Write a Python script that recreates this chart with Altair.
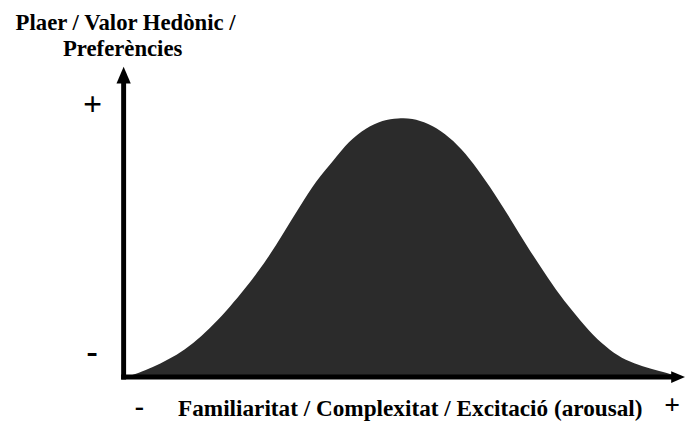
import altair as alt
import pandas as pd

# Curve (x: 0-100 along the horizontal axis, y: 0-100 up the vertical axis)
curve_x = [0.5, 5.0, 11.1, 17.0, 22.9, 25.9, 28.9, 31.8, 34.8, 37.9, 40.7, 43.8, 46.8, 49.6,
           52.1, 55.0, 58.0, 61.1, 63.9, 67.0, 70.0, 72.9, 75.9, 78.9, 81.8, 84.8, 87.9,
           90.7, 93.8, 96.8, 99.6]
curve_y = [0.0, 2.8, 8.1, 17.5, 30.0, 37.2, 45.6, 53.8, 62.2, 68.4, 74.7, 78.8, 81.3, 81.9,
           81.9, 80.3, 77.2, 72.2, 65.9, 58.1, 49.7, 41.3, 33.4, 25.6, 19.4, 13.1, 8.4,
           5.3, 3.4, 1.9, 0.6]

y_title_lines = ["Plaer / Valor Hedònic /", "Preferències"]
x_title = "Familiaritat / Complexitat / Excitació (arousal)"
plus_label = "+"
minus_label = "-"

W, H = 560, 320
FONT = "Liberation Serif"
INK = "#000000"
FILL = "#2b2b2b"

df = pd.DataFrame({"x": curve_x, "y": curve_y})

xs = alt.Scale(domain=[0, 100], nice=False, zero=False)
ys = alt.Scale(domain=[0, 100], nice=False, zero=False)

area = alt.Chart(df).mark_area(color=FILL, interpolate="basis").encode(
    x=alt.X("x:Q", scale=xs, axis=None),
    y=alt.Y("y:Q", scale=ys, axis=None),
)

y_shaft = alt.Chart().mark_rule(color=INK, strokeWidth=5).encode(
    x=alt.value(0), y=alt.value(H + 2.5), y2=alt.value(20)
)
x_shaft = alt.Chart().mark_rule(color=INK, strokeWidth=5).encode(
    x=alt.value(-2.5), x2=alt.value(558), y=alt.value(H)
)
y_head = alt.Chart().mark_point(
    shape="M-0.85,1L0.85,1L0,-1Z", filled=True, color=INK, opacity=1, size=289
).encode(x=alt.value(0), y=alt.value(14.5))
x_head = alt.Chart().mark_point(
    shape="M-1,-0.85L-1,0.85L1,0Z", filled=True, color=INK, opacity=1, size=196
).encode(x=alt.value(561), y=alt.value(H))


def label(txt, x, y, size):
    return alt.Chart().mark_text(
        font=FONT, fontWeight="bold", fontSize=size, color=INK
    ).encode(x=alt.value(x), y=alt.value(y), text=alt.value(txt))


texts = [
    label(y_title_lines[0], 2, -38, 23),
    label(y_title_lines[1], -1, -12, 23),
    label(plus_label, -31.5, 44.5, 34),
    label(minus_label, -32, 296, 34),
    label(minus_label, 16, 350, 28),
    label(x_title, 290, 352, 23.5),
    label(plus_label, 555, 349, 28),
]

chart = alt.layer(area, y_shaft, x_shaft, y_head, x_head, *texts).properties(
    width=W,
    height=H,
    autosize=alt.AutoSizeParams(type="none"),
    padding={"left": 117, "top": 51, "right": 8, "bottom": 44},
).configure_view(stroke=None)

chart.save("out.html", embed_options={"renderer": "svg", "actions": False})
